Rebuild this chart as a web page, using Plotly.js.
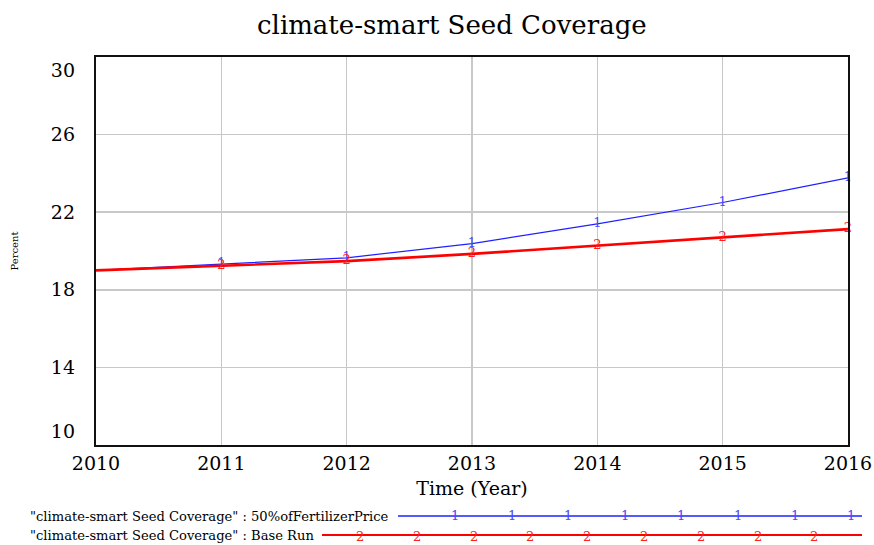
<!DOCTYPE html>
<html><head><meta charset="utf-8">
<script src="https://cdn.plot.ly/plotly-3.0.1.min.js"></script>
<style>body{margin:0;background:#fff}#c{width:874px;height:545px}</style>
</head><body><div id="c"></div>
<script>
const years = [2010, 2011, 2012, 2013, 2014, 2015, 2016];
const fert50 = [19.0, 19.33, 19.65, 20.38, 21.4, 22.5, 23.77];
const baseRun = [19.0, 19.23, 19.48, 19.85, 20.27, 20.68, 21.13];
const yTickVals = [10, 14, 18, 22, 26, 30];
const yTickText = ['10', '14', '18', '22', '26', '30'];
const xTickVals = [2010, 2011, 2012, 2013, 2014, 2015, 2016];
const seriesNames = ['"climate-smart Seed Coverage" : 50%ofFertilizerPrice', '"climate-smart Seed Coverage" : Base Run'];
const serif = 'DejaVu Serif, serif';

const markerText = (arr, ch) => arr.map((v, i) => i === 0 ? '' : ch);

const traces = [
  {x: years, y: fert50, mode: 'lines+text', text: markerText(years, '1'), textposition: 'middle center',
   textfont: {family: serif, size: 13, color: '#4a4aff'}, line: {color: '#2020ff', width: 1.2}, xaxis: 'x', yaxis: 'y', cliponaxis: false},
  {x: years, y: baseRun, mode: 'lines+text', text: markerText(years, '2'), textposition: 'middle center',
   textfont: {family: serif, size: 13, color: '#ff2020'}, line: {color: '#ff0000', width: 2.6}, xaxis: 'x', yaxis: 'y', cliponaxis: false},
  {x: [2010], y: [null], yaxis: 'y2', xaxis: 'x', showlegend: false, hoverinfo: 'skip'}
];

const shapes = [
  {type: 'line', xref: 'paper', yref: 'paper', x0: (398-96)/752, x1: (862-96)/752, y0: -(516-445)/388, y1: -(516-445)/388, line: {color: '#2020ff', width: 1.5}},
  {type: 'line', xref: 'paper', yref: 'paper', x0: (322-96)/752, x1: (862-96)/752, y0: -(535-445)/388, y1: -(535-445)/388, line: {color: '#ff0000', width: 2}}
];
const annotations = [
  {xref: 'paper', yref: 'paper', x: (28-96)/752, y: -(516-445)/388, xanchor: 'left', yanchor: 'middle', showarrow: false,
   text: seriesNames[0], font: {family: serif, size: 13.1, color: '#000'}},
  {xref: 'paper', yref: 'paper', x: (28-96)/752, y: -(535-445)/388, xanchor: 'left', yanchor: 'middle', showarrow: false,
   text: seriesNames[1], font: {family: serif, size: 13.1, color: '#000'}}
];
for (let k = 0; k < 8; k++) {
  annotations.push({xref: 'paper', yref: 'paper', x: (455 + k*56.6 - 96)/752, y: -(515-445)/388, showarrow: false, text: '1',
    font: {family: serif, size: 13, color: '#4a4aff'}, xanchor: 'center', yanchor: 'middle'});
}
for (let k = 0; k < 9; k++) {
  annotations.push({xref: 'paper', yref: 'paper', x: (360 + k*56.8 - 96)/752, y: -(536-445)/388, showarrow: false, text: '2',
    font: {family: serif, size: 13, color: '#ff2020'}, xanchor: 'center', yanchor: 'middle'});
}

const layout = {
  width: 874, height: 545,
  margin: {l: 96, r: 26, t: 57, b: 100},
  paper_bgcolor: '#fff', plot_bgcolor: '#fff',
  showlegend: false,
  title: {text: 'climate-smart Seed Coverage', font: {family: serif, size: 26, color: '#000'}, x: 0.517, xanchor: 'center', y: 0.955, yanchor: 'middle'},
  xaxis: {range: [2010, 2016], tickvals: xTickVals, ticktext: xTickVals.map(String), showgrid: true, gridcolor: '#c8c8c8', gridwidth: 1.5,
    showline: true, linecolor: '#111', linewidth: 2, mirror: true, ticks: '', zeroline: false,
    tickfont: {family: serif, size: 19, color: '#000'},
    title: {text: 'Time (Year)', font: {family: serif, size: 19, color: '#000'}, standoff: 9}},
  yaxis: {range: [10, 30], tickvals: yTickVals, showticklabels: false, showgrid: true, gridcolor: '#c8c8c8', gridwidth: 1.5,
    showline: true, linecolor: '#111', linewidth: 2, mirror: true, ticks: '', zeroline: false,
    title: {text: 'Percent', font: {family: serif, size: 10, color: '#000'}, standoff: 74}},
  yaxis2: {range: [10, 30], overlaying: 'y', side: 'left', showgrid: false, zeroline: false, showline: false, ticks: '',
    tickvals: [10.7, 14, 18, 22, 26, 29.3], ticktext: yTickText, ticklabelstandoff: 20, tickfont: {family: serif, size: 19, color: '#000'}},
  shapes: shapes, annotations: annotations
};
Plotly.newPlot('c', traces, layout, {displayModeBar: false, staticPlot: true});
</script></body></html>
